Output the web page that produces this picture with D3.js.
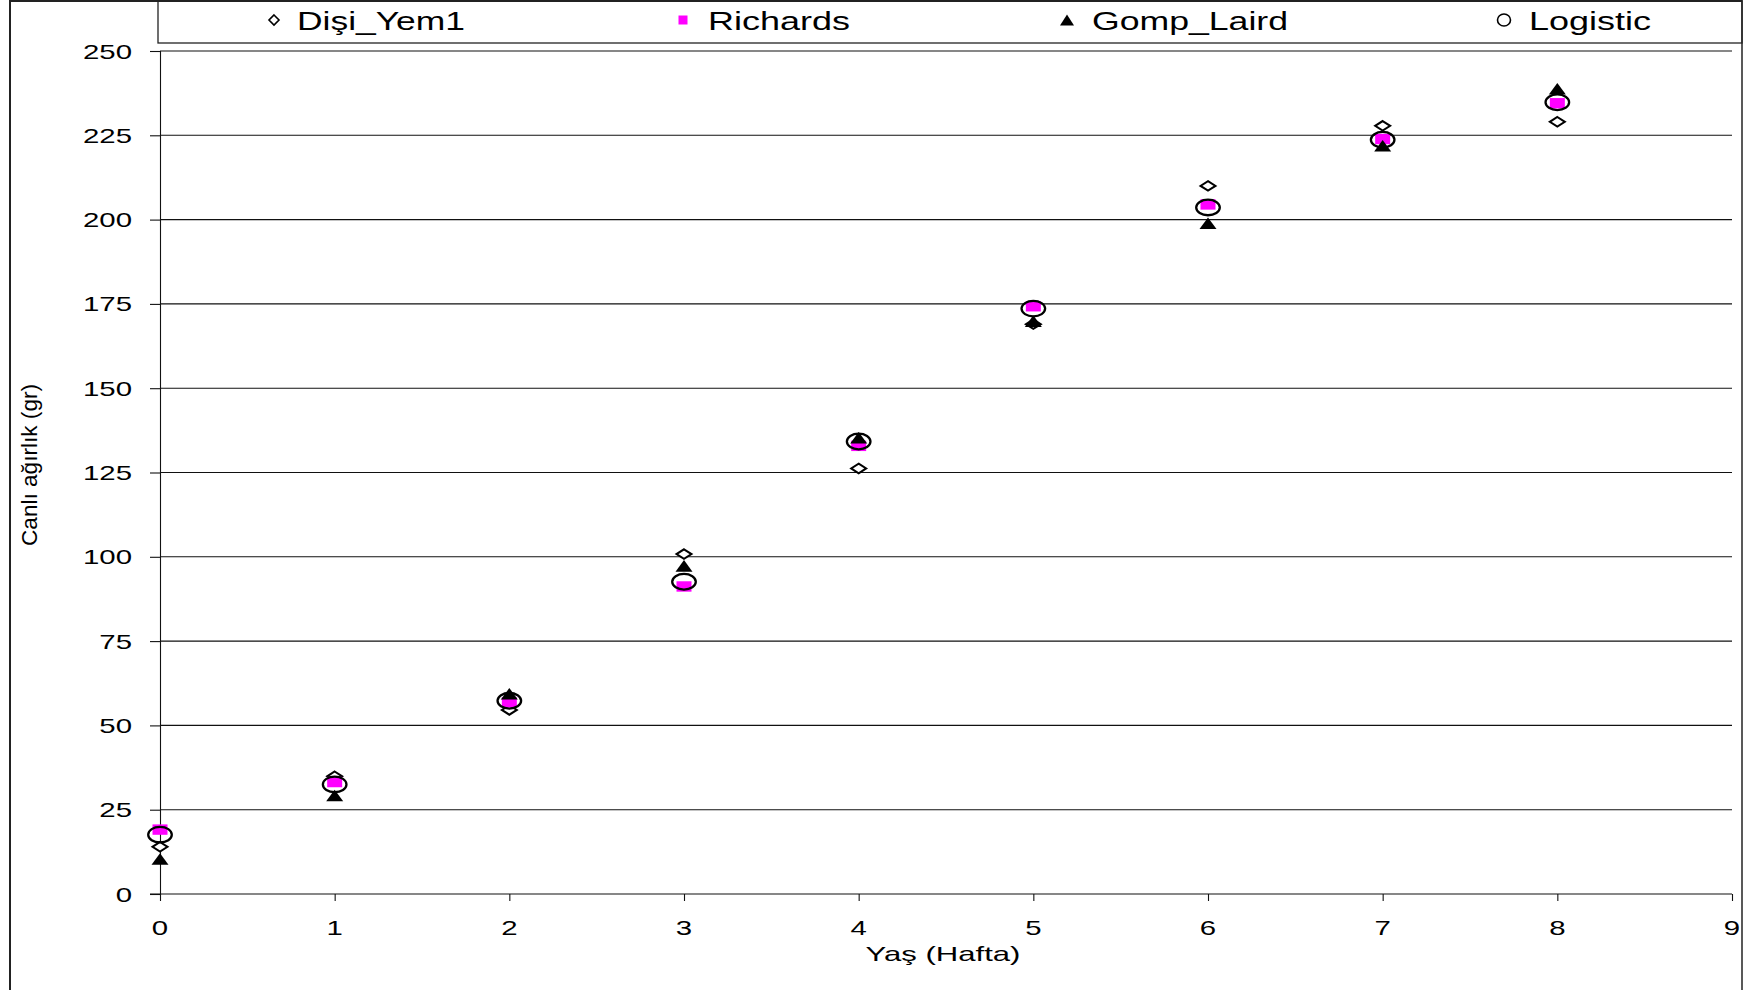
<!DOCTYPE html>
<html>
<head>
<meta charset="utf-8">
<script src="https://cdn.jsdelivr.net/npm/d3@7"></script>
<style>
  html, body { margin: 0; padding: 0; background: #fff; }
  svg { display: block; }
  text { font-family: "Liberation Sans", Arial, sans-serif; fill: #000; }
</style>
</head>
<body>
<svg id="chart" width="1756" height="990"></svg>
<script>
// Week of age
const weeks = [0, 1, 2, 3, 4, 5, 6, 7, 8];

// Live weight (g): observed and fitted growth models
const disiYem1 = [14.0, 34.9, 54.6, 100.8, 126.2, 169.0, 210.0, 227.8, 229.0];
const richards = [19.1, 33.2, 56.8, 91.2, 132.9, 174.3, 204.5, 223.9, 234.5];
const gompLaird = [10.4, 29.2, 59.4, 97.3, 135.3, 169.9, 198.9, 221.9, 238.8];
const logistic = [17.6, 32.5, 57.3, 92.6, 134.2, 173.6, 203.6, 223.7, 234.8];

const seriesNames = ["Dişi_Yem1", "Richards", "Gomp_Laird", "Logistic"];
const xTicks = [0, 1, 2, 3, 4, 5, 6, 7, 8, 9];
const yTicks = [0, 25, 50, 75, 100, 125, 150, 175, 200, 225, 250];
const xTitle = "Yaş (Hafta)";
const yTitle = "Canlı ağırlık (gr)";

const svg = d3.select("#chart");
const W = 1756, H = 990;
const plot = { left: 160, right: 1732, top: 51, bottom: 894 };
const SX = 1.4; // horizontal stretch of the lettering

const x = d3.scaleLinear().domain([0, 9]).range([plot.left, plot.right]);
const y = d3.scaleLinear().domain([0, 250]).range([plot.bottom, plot.top]);

// Outer frame
svg.append("rect").attr("x", 0).attr("y", 0).attr("width", W).attr("height", H).attr("fill", "#fff");
svg.append("line").attr("x1", 10).attr("x2", 10).attr("y1", 0).attr("y2", H)
  .attr("stroke", "#222").attr("stroke-width", 2);
svg.append("line").attr("x1", 10).attr("x2", 1742).attr("y1", 1).attr("y2", 1)
  .attr("stroke", "#222").attr("stroke-width", 2);
svg.append("line").attr("x1", 1742).attr("x2", 1742).attr("y1", 0).attr("y2", H)
  .attr("stroke", "#222").attr("stroke-width", 1.5);

// Horizontal gridlines
svg.append("g").selectAll("line").data(yTicks.filter(d => d > 0)).join("line")
  .attr("x1", plot.left).attr("x2", plot.right)
  .attr("y1", d => y(d)).attr("y2", d => y(d))
  .attr("stroke", "#111").attr("stroke-width", 1.1);

// Y axis
const yAxis = svg.append("g").attr("transform", `translate(${plot.left},0)`)
  .call(d3.axisLeft(y).tickValues(yTicks).tickSize(10).tickFormat(""));
yAxis.select(".domain").attr("stroke", "#111").attr("stroke-width", 1.1);
yAxis.selectAll(".tick line").attr("stroke", "#111").attr("stroke-width", 1.1);

// X axis
const xAxis = svg.append("g").attr("transform", `translate(0,${plot.bottom})`)
  .call(d3.axisBottom(x).tickValues(xTicks).tickSize(7).tickFormat(""));
xAxis.select(".domain").attr("stroke", "#111").attr("stroke-width", 1.1)
  .attr("d", `M${plot.left - 10},0H${plot.right}`);
xAxis.selectAll(".tick line").attr("stroke", "#111").attr("stroke-width", 1.1);

// Stretched text helper
function label(px, py, str, size, anchor, sx) {
  return svg.append("text")
    .attr("transform", `translate(${px},${py}) scale(${sx},1)`)
    .attr("text-anchor", anchor)
    .attr("font-size", size)
    .text(str);
}

yTicks.forEach(v => label(132, y(v) + 7.5, String(v), 21, "end", SX));
xTicks.forEach(v => label(x(v), 935, String(v), 21, "middle", SX));

// Axis titles
svg.append("text")
  .attr("x", 943).attr("y", 961)
  .attr("text-anchor", "middle").attr("font-size", 21)
  .attr("textLength", 155).attr("lengthAdjust", "spacingAndGlyphs")
  .text(xTitle);
svg.append("text")
  .attr("transform", "translate(37,465) rotate(-90)")
  .attr("text-anchor", "middle").attr("font-size", 22)
  .attr("textLength", 162).attr("lengthAdjust", "spacingAndGlyphs")
  .text(yTitle);

// Marker shapes
const shapes = {
  diamond: (g, w, h) => g.append("path")
    .attr("d", `M0,${-h}L${w},0L0,${h}L${-w},0Z`)
    .attr("fill", "#fff").attr("stroke", "#000").attr("stroke-width", 2),
  square: (g, w, h) => g.append("rect")
    .attr("x", -w).attr("y", -h).attr("width", 2 * w).attr("height", 2 * h)
    .attr("fill", "#ff00ff"),
  triangle: (g, w, h) => g.append("path")
    .attr("d", `M0,${-h}L${w},${h}L${-w},${h}Z`)
    .attr("fill", "#000"),
  circle: (g, w, h) => g.append("ellipse")
    .attr("rx", w).attr("ry", h)
    .attr("fill", "none").attr("stroke", "#000").attr("stroke-width", 2.3)
};

const series = [
  { name: seriesNames[0], values: disiYem1, shape: "diamond", w: 7.5, h: 4.8, lw: 5, lh: 5, lx: 274, tx: 297, tl: 168 },
  { name: seriesNames[1], values: richards, shape: "square", w: 7.5, h: 5.2, lw: 4.5, lh: 4.5, lx: 683, tx: 708, tl: 142 },
  { name: seriesNames[2], values: gompLaird, shape: "triangle", w: 8.5, h: 5.8, lw: 7, lh: 5.5, lx: 1067, tx: 1092, tl: 196 },
  { name: seriesNames[3], values: logistic, shape: "circle", w: 11.8, h: 7.8, lw: 6.5, lh: 6, lx: 1504, tx: 1529, tl: 122 }
];

// Data points
series.forEach(s => {
  const g = svg.append("g");
  s.values.forEach((v, i) => {
    const m = g.append("g").attr("transform", `translate(${x(weeks[i])},${y(v)})`);
    shapes[s.shape](m, s.w, s.h);
  });
});

// Legend
svg.append("rect").attr("x", 158).attr("y", 1).attr("width", 1742 - 158).attr("height", 42)
  .attr("fill", "none").attr("stroke", "#222").attr("stroke-width", 1.3);
series.forEach(s => {
  const m = svg.append("g").attr("transform", `translate(${s.lx},20)`);
  const el = shapes[s.shape](m, s.lw, s.lh);
  if (s.shape === "circle" || s.shape === "diamond") el.attr("stroke-width", 1.6);
  svg.append("text")
    .attr("x", s.tx).attr("y", 29.5)
    .attr("font-size", 25)
    .attr("textLength", s.tl).attr("lengthAdjust", "spacingAndGlyphs")
    .text(s.name);
});
</script>
</body>
</html>
